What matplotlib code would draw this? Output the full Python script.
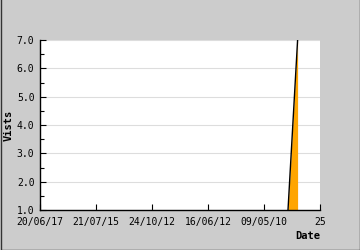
import matplotlib
matplotlib.use('Agg')
import matplotlib.pyplot as plt
from matplotlib.ticker import MultipleLocator


# daily visits, one entry per day (index 0 .. 23)
visits = [0, 0, 0, 0, 0, 0, 0, 0, 0, 0, 0, 0,
          0, 0, 0, 0, 0, 0, 0, 0, 0, 0, 0, 7]
tick_pos = [0, 5, 10, 15, 20, 25]
tick_labels = ['20/06/17', '21/07/15', '24/10/12', '16/06/12', '09/05/10', '25']


def main():
    plt.rcParams['font.family'] = 'DejaVu Sans Mono'
    bg = '#cccccc'

    fig = plt.figure(figsize=(3.6, 2.5), dpi=100, facecolor=bg)
    ax = fig.add_axes([40 / 360, 40 / 250, 280 / 360, 170 / 250])
    ax.set_facecolor('white')

    days = list(range(len(visits)))
    ax.fill_between(days, visits, 0, color='#ffa500', lw=0)
    ax.plot(days, visits, color='black', lw=1.0)

    ax.set_xlim(0, 25)
    ax.set_ylim(1, 7)
    ax.set_xticks(tick_pos)
    ax.set_xticklabels(tick_labels)
    ax.yaxis.set_major_locator(MultipleLocator(1))
    ax.yaxis.set_minor_locator(MultipleLocator(0.5))
    ax.set_yticklabels(['%.1f' % v for v in ax.get_yticks()])

    ax.grid(axis='y', color='#dddddd', lw=0.8)
    ax.set_axisbelow(True)
    for s in ['top', 'right']:
        ax.spines[s].set_visible(False)
    for s in ['left', 'bottom']:
        ax.spines[s].set_linewidth(1.0)

    ax.tick_params(axis='both', which='major', direction='in', length=4,
                   width=0.8, labelsize=7, pad=4)
    ax.tick_params(axis='y', which='minor', direction='in', length=3, width=0.8)
    ax.tick_params(axis='x', pad=5)

    fig.text(9 / 360, 1 - 125 / 250, 'Vists', rotation=90, ha='center', va='center',
             fontsize=7.5, fontweight='bold')
    fig.text(320 / 360, 1 - 236 / 250, 'Date', ha='right', va='center',
             fontsize=7.5, fontweight='bold')

    # frame round the picture (left, bottom, right)
    fig.add_artist(plt.Line2D([0.5 / 360, 0.5 / 360, 359.5 / 360, 359.5 / 360],
                              [1, 0.5 / 250, 0.5 / 250, 1],
                              transform=fig.transFigure, color='#333333', lw=1))

    fig.savefig('out.png', dpi=100, facecolor=bg)


if __name__ == '__main__':
    main()
